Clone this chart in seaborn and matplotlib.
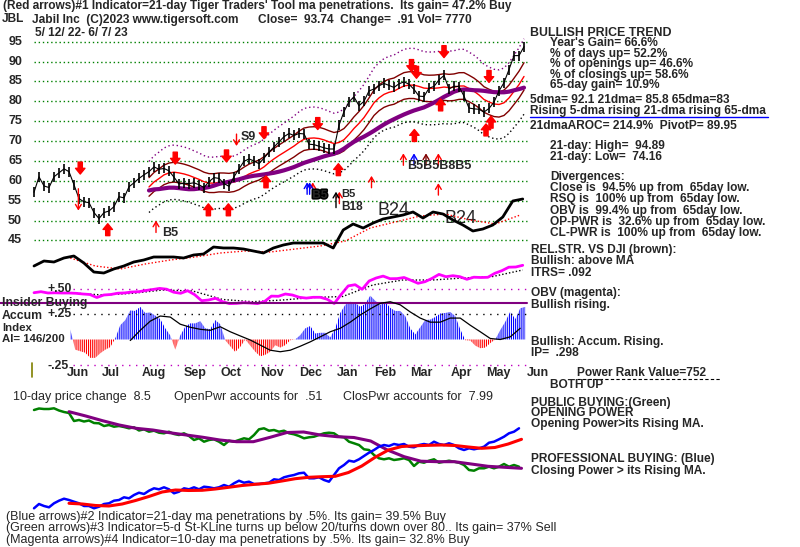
import numpy as np
import pandas as pd
import matplotlib
matplotlib.use("Agg")
import matplotlib.pyplot as plt
import matplotlib.patheffects as pe
import seaborn as sns

# ---------------- data ----------------
# daily-ish closes, 5/12/22 .. 6/7/23 (evenly spaced samples)
price = [57.1, 61, 58.7, 58.3, 61, 62, 63, 62.3, 59, 55.5,
         54.7, 54.5, 52, 50.5, 52, 52.4, 53.5, 56, 55.7, 58.5,
         59.5, 60.6, 61.5, 62.3, 63.5, 62.9, 63.1, 62.5, 60.9, 59.2,
         59.4, 59.3, 59.5, 59, 58.3, 59.8, 60.8, 60.6, 59.3, 58.6,
         61, 63, 64.9, 65.5, 65, 64.3, 65.7, 67.2, 68.5, 69.8,
         71.1, 71.9, 71.4, 71.9, 71.8, 69.2, 69.1, 68.7, 68.3, 68,
         68, 74, 77.4, 79.9, 81.1, 78.9, 80, 82.6, 83.1, 83.9,
         84.5, 84, 83.5, 84.4, 84.9, 84.3, 83, 81.3, 81.2, 83.3,
         83.75, 85.4, 86.5, 83.1, 83.8, 83.7, 81.3, 78.3, 78.1, 78,
         77.3, 78.2, 79.8, 82.6, 84.7, 88, 91.5, 91.5, 93.74]
price_span = (0, 392)          # calendar days after 5/12/22

price_ticks = [95, 90, 85, 80, 75, 70, 65, 60, 55, 50, 45]
months = ["Jun", "Jul", "Aug", "Sep", "Oct", "Nov", "Dec",
          "Jan", "Feb", "Mar", "Apr", "May", "Jun"]
month_days = [26, 54, 86, 120, 149, 181, 212, 242, 272, 301, 333, 362, 394]

# relative strength vs DJI and its MA
rs = [34, 39, 38, 42, 44, 37, 28, 27, 31, 34, 38, 40, 43, 43, 43, 42, 45, 46,
      53, 52, 52, 51, 49, 47, 52, 55, 57, 57, 57, 57, 52, 70, 76, 72, 77, 81,
      83, 85, 88, 82, 88, 86, 80, 75, 69, 71, 75, 83, 99, 101]
rs_span = (0, 391)
rs_ma = [42, 34, 31, 36, 40, 43, 47, 49, 48, 51, 54, 59, 72, 78, 84, 86, 80, 76, 85]
rs_ma_span = (29, 389)

# on-balance volume and its MA
obv = [27.3, 28.3, 27, 27.2, 27, 27, 26.7, 26, 25.5, 22.5, 25, 25.5, 26.8, 27.1,
       28, 28.3, 29.5, 30.5, 31.6, 30.8, 27.8, 26.7, 29.3, 25.4, 19.3, 20, 21.7,
       18.3, 16.4, 16.6, 17.3, 17, 16.4, 18.4, 23.9, 23.7, 26, 25, 22.7, 21.9,
       22.7, 22.7, 20.7, 16.5, 25.6, 34.1, 35.3, 30.7, 39, 42, 43.9, 41.3, 41.4,
       42.5, 39.7, 36.7, 38.3, 41.6, 45.6, 43.3, 44.3, 43.3, 40.7, 42.8, 42.5,
       42.7, 46.7, 49.3, 52.8, 53, 54.7]
obv_span = (0, 391)
obv_ma = [27, 25, 26.7, 30, 29, 20.5, 18.3, 20, 22.5, 23.5, 35, 40, 40, 42, 43.5, 50]
obv_ma_span = (31, 391)

# accumulation index and its MA
ai = [0.10, -0.10, -0.115, -0.13, -0.18, -0.18, -0.135, -0.10, -0.075, 0.01,
      0.14, 0.19, 0.285, 0.28, 0.32, 0.26, 0.265, 0.235, 0.2, 0.11,
      0.04, -0.1, 0.04, 0.125, 0.158, 0.158, 0.18, 0.11, 0.10, 0.19,
      0.15, -0.007, -0.066, -0.122, -0.072, 0, -0.06, -0.12, -0.165, -0.15,
      -0.12, -0.056, -0.079, -0.056, -0.007, 0, 0.043, 0.109, 0.132, 0.059,
      0.066, 0.066, 0.02, 0.11, 0.26, 0.34, 0.37, 0.36, 0.32, 0.35,
      0.43, 0.38, 0.34, 0.37, 0.31, 0.28, 0.28, 0.23, 0.109, 0.05,
      0.12, 0.191, 0.195, 0.22, 0.255, 0.26, 0.27, 0.23, 0.10, -0.007,
      -0.01, -0.06, -0.085, -0.08, -0.035, 0.0, 0.092, 0.174, 0.273, 0.20,
      0.306, 0.32]
ai_span = (29, 393)
ai_ma = [-0.01, 0.09, 0.18, 0.23, 0.22, 0.15, 0.12, 0.1, 0.09, 0.125,
         0.076, 0.035, -0.005, -0.055, -0.105, -0.12, -0.105, -0.066, -0.023, 0.026,
         0.076, 0.11, 0.17, 0.24, 0.3, 0.355, 0.37, 0.34, 0.27, 0.21,
         0.17, 0.17, 0.21, 0.21, 0.14, 0.076, 0.01, 0, 0.026, 0.11]
ai_ma_span = (77, 389)

# opening power (green) / its MA (purple); closing power (blue) / its MA (red)
op = [110, 111.5, 111, 111, 111.7, 109.5, 108, 107, 99, 100,
      98.5, 99.5, 97, 96.7, 94, 95, 93.3, 94, 93, 91.7,
      92.7, 89.5, 90.7, 88.3, 89.3, 87.3, 86.7, 88.3, 86, 85,
      86.7, 84, 80, 81.7, 78.3, 80, 80.7, 78.3, 75, 79.3,
      78.3, 80, 81.7, 80.7, 85, 90.7, 91.7, 89.3, 90, 88.3,
      89.3, 86.7, 85.7, 84, 81.7, 82.7, 83.3, 85, 86.7, 87.3,
      86.7, 83.3, 82.7, 78.3, 76.7, 75, 70.7, 70, 65, 61.7,
      60.7, 61.7, 60, 60.7, 61.7, 60, 54, 58.3, 57.3, 59.3,
      60.7, 57.3, 58.3, 59.3, 58.3, 57.3, 55, 50, 49.3, 51.7,
      51.7, 53.3, 51.7, 53.3, 56, 53.3, 55, 53.3]
op_ma = [108.3, 104, 99.3, 95, 91.7, 90, 87.3, 85, 82.7, 80,
         78.3, 78.3, 82.7, 87.5, 88, 85, 83.3, 82.5, 79, 70,
         63.3, 58.8, 58.3, 58.3, 56, 53.7, 52.7, 51.7]
cp = [11.7, 16, 14, 12.7, 16.7, 19.3, 21.3, 20, 18.3, 16.7,
      14, 14, 11.7, 13.3, 16, 16.7, 19.3, 20, 22.7, 21.7,
      25, 27.3, 26, 29.3, 31.7, 30.7, 32.7, 30.7, 26.7, 28.3,
      31.7, 30.7, 32.7, 30.7, 33.3, 32.7, 31.7, 32.7, 35, 33.3,
      36.7, 39.3, 37.3, 38.3, 36, 36, 36.7, 37.3, 40.7, 40,
      42.7, 44, 45, 46.7, 47.3, 41.7, 41.7, 42.7, 40, 38.3,
      45, 51.7, 55, 59.3, 58.3, 60.7, 64, 67.3, 70, 73.3,
      75, 74, 76, 75, 76, 73.3, 72.7, 75, 76, 75,
      78.3, 76, 75, 76.7, 75, 71.7, 70, 71.7, 70.7, 71.7,
      73.3, 77.3, 78.3, 80.7, 83.3, 86.7, 88.3, 91.7]
cp_ma = [16.7, 16, 14.5, 14, 16, 19.5, 23.5, 28, 30, 29.5,
         29.7, 31, 32.7, 34.5, 35.7, 36.8, 39, 41.3, 42.7, 43.3,
         43.7, 47.5, 54, 62.7, 70, 73.5, 74.2, 74.7, 75, 74.5,
         73, 71.7, 72.5, 76, 80.7]
pw_span = (0, 388)
pw_ma_span = (28, 390)

# signals: (day, arrow tip price)
sell_big = [(37, 61.7), (113, 64.2), (154, 64.75), (184, 70.6), (227, 72.9),
            (302, 87.5), (306, 85.8), (328, 91.0), (364, 84.75)]
buy_big = [(59, 49.2), (139.5, 54.2), (155.5, 54.2), (185.6, 61.25), (243.5, 64.3),
           (304.3, 72.9), (325.3, 80.6), (361.6, 74.3), (365.6, 76.25)]
buy_thin_red = [(97.6, 50), (244.3, 57.25), (270, 61.25), (295.5, 66.9), (323.5, 66.9),
                (323.5, 59.4), (223, 59.6)]
buy_thin_blue = [(218.5, 59.6), (220.5, 59.6), (304, 66.9)]
buy_thin_dkred = [(313.6, 66.9)]
buy_thin_black = [(241.6, 57.25)]
sell_thin_red = [(162, 68.75)]

# ---------------- figure ----------------
W, H = 800, 547
sns.set_theme(style="white")
plt.rcParams["font.family"] = ["Liberation Sans", "DejaVu Sans"]
plt.rcParams["hatch.linewidth"] = 0.8
NARROW = ["Liberation Sans Narrow", "Liberation Sans", "DejaVu Sans"]
FS = 8.6

fig = plt.figure(figsize=(W / 100, H / 100), dpi=100)
fig.patch.set_facecolor("white")

PX0, PXD = 34.0, 1.25                     # pixel of day 0, pixels per day
XLIM = (-PX0 / PXD, (W - PX0) / PXD)


def layer(v_top, v_bottom):
    ax = fig.add_axes([0, 0, 1, 1])
    ax.set_xlim(*XLIM)
    ax.set_ylim(v_bottom, v_top)
    ax.axis("off")
    ax.patch.set_alpha(0)
    return ax


def T(x, y, s, size=FS, weight="bold", family=None, **kw):
    kw.setdefault("va", "center")
    kw.setdefault("ha", "left")
    fig.text(x / W, 1 - y / H, s, fontsize=size, fontweight=weight,
             family=family if family else ["Liberation Sans", "DejaVu Sans"], **kw)


def days(span, n):
    return np.linspace(span[0], span[1], n)


# ---- price panel ----
axp = layer(95 + 41.7 / 3.974, 95 - (H - 41.7) / 3.974)
for v in price_ticks:
    axp.plot([0, 394], [v, v], color="#008000", lw=1, ls=(0, (1, 2)))
    axp.text(-9.5, v, str(v), ha="right", va="center", fontsize=9, fontweight="bold")

dp = days(price_span, len(price))
s = pd.Series(price)
ma21 = s.rolling(8).mean()
ma65 = s.rolling(24).mean()
ok = np.arange(len(price)) >= 23
bands = pd.DataFrame({"day": dp[ok], "ma21": ma21[ok], "ma65": ma65[ok],
                      "up1": ma21[ok] * 1.04, "dn1": ma21[ok] * 0.96,
                      "up2": ma21[ok] * 1.11, "dn2": ma21[ok] * 0.89})
sns.lineplot(data=bands, x="day", y="up2", ax=axp, color="#800080", lw=1, ls=(0, (1, 2)))
sns.lineplot(data=bands, x="day", y="dn2", ax=axp, color="black", lw=1, ls=(0, (1, 2)))
sns.lineplot(data=bands, x="day", y="up1", ax=axp, color="#800000", lw=1)
sns.lineplot(data=bands, x="day", y="dn1", ax=axp, color="#800000", lw=1)
sns.lineplot(data=bands, x="day", y="ma21", ax=axp, color="red", lw=1)
sns.lineplot(data=bands, x="day", y="ma65", ax=axp, color="#800080", lw=3)
sns.lineplot(x=dp, y=price, ax=axp, color="black", lw=0.8, marker="|",
             markersize=7, markeredgewidth=1.2, markeredgecolor="black")
axp.set_xlim(*XLIM)
axp.axis("off")


def arrow(ax, d, tip, up, big, color, L=3.0):
    tail = tip - L if up else tip + L
    if big:
        props = dict(arrowstyle="simple,head_length=0.55,head_width=0.9,tail_width=0.4",
                     color=color, shrinkA=0, shrinkB=0, mutation_scale=7.5)
    else:
        props = dict(arrowstyle="->,head_length=0.5,head_width=0.3", color=color,
                     lw=1, shrinkA=0, shrinkB=0, mutation_scale=7)
    ax.annotate("", xy=(d, tip), xytext=(d, tail), arrowprops=props)


for d, v in sell_big:
    arrow(axp, d, v, False, True, "red")
for d, v in buy_big:
    arrow(axp, d, v, True, True, "red")
for d, v in buy_thin_red:
    arrow(axp, d, v, True, False, "red")
for d, v in buy_thin_blue:
    arrow(axp, d, v, True, False, "blue")
for d, v in buy_thin_dkred:
    arrow(axp, d, v, True, False, "#800000")
for d, v in buy_thin_black:
    arrow(axp, d, v, True, False, "black", L=4)
for d, v in sell_thin_red:
    arrow(axp, d, v, False, False, "red")
arrow(axp, 35.5, 52.5, False, False, "red", L=5.5)

axp.text(165.5, 71.0, "S9", fontsize=9, fontweight="bold", va="center")
axp.text(102.5, 46.8, "B5", fontsize=9, fontweight="bold", va="center")
axp.text(298.5, 63.6, "B5B5B8B5", fontsize=9, fontweight="bold", va="center")
axp.text(222.6, 56.4, "B5", fontsize=8.5, fontweight="heavy", va="center",
         path_effects=[pe.withStroke(linewidth=2.2, foreground="black")])
axp.text(245.8, 56.6, "B5", fontsize=8, fontweight="bold", va="center")
axp.text(245.8, 53.4, "B18", fontsize=8.5, fontweight="bold", va="center")
axp.text(274.5, 52.6, "B24", fontsize=13, va="center")
axp.text(328, 50.5, "B24", fontsize=13, va="center")

# ---- relative strength ----
axr = layer(300, 300 - H)
sns.lineplot(x=days(rs_ma_span, len(rs_ma)), y=rs_ma, ax=axr, color="red", lw=1, ls=(0, (1, 1.5)))
sns.lineplot(x=days(rs_span, len(rs)), y=rs, ax=axr, color="black", lw=2)
axr.set_xlim(*XLIM); axr.set_ylim(300 - H, 300); axr.axis("off")

# ---- OBV ----
axo = layer(320, 320 - H)
sns.lineplot(x=days(obv_ma_span, len(obv_ma)), y=obv_ma, ax=axo, color="black", lw=1, ls=(0, (1, 1.5)))
sns.lineplot(x=days(obv_span, len(obv)), y=obv, ax=axo, color="#ff00ff", lw=2)
axo.set_xlim(*XLIM); axo.set_ylim(320 - H, 320); axo.axis("off")

# ---- accumulation index ----
a_top, a_bot = 339.5 / 102, (339.5 - H) / 102
axa = layer(a_top, a_bot)
axa.plot([-27, 394], [0.36, 0.36], color="#800080", lw=1.5)
axa.plot([31, 394], [0.5, 0.5], color="#c000c0", lw=1, ls=(0, (1, 4)))
axa.plot([31, 394], [0.25, 0.25], color="black", lw=1, ls=(0, (1, 4)))
axa.plot([31, 394], [-0.25, -0.25], color="#c000c0", lw=1, ls=(0, (1, 4)))
axa.plot([-1.5, -1.5], [-0.23, -0.37], color="#808000", lw=1.2)
da = days(ai_span, len(ai))
aiv = np.array(ai)
axa.fill_between(da, 0, aiv, where=aiv >= 0, interpolate=True, facecolor="none",
                 edgecolor="blue", hatch="||||||||", lw=0)
axa.fill_between(da, 0, aiv, where=aiv <= 0, interpolate=True, facecolor="none",
                 edgecolor="red", hatch="||||||||", lw=0)
sns.lineplot(x=days(ai_ma_span, len(ai_ma)), y=ai_ma, ax=axa, color="black", lw=0.9)
axa.set_xlim(*XLIM); axa.set_ylim(a_bot, a_top); axa.axis("off")

for lab, d in zip(months, month_days):
    axa.text(d, -0.33, lab, fontsize=9, fontweight="bold", va="center", ha="left")

# ---- opening / closing power ----
axw = layer(520, 520 - H)
sns.lineplot(x=days(pw_span, len(op)), y=op, ax=axw, color="#008000", lw=1.8)
sns.lineplot(x=days(pw_ma_span, len(op_ma)), y=op_ma, ax=axw, color="#800080", lw=2.2)
sns.lineplot(x=days(pw_span, len(cp)), y=cp, ax=axw, color="#0000ff", lw=1.8)
sns.lineplot(x=days(pw_ma_span, len(cp_ma)), y=cp_ma, ax=axw, color="red", lw=2.2)
axw.set_xlim(*XLIM); axw.set_ylim(520 - H, 520); axw.axis("off")

# ---------------- texts ----------------
T(3, 6.5, "(Red arrows)#1 Indicator=21-day Tiger Traders' Tool ma penetrations.  Its gain= 47.2% Buy")
T(2, 19.5, "JBL")
T(32, 19.5, "Jabil Inc  (C)2023 www.tigersoft.com")
T(258, 19.5, "Close=  93.74  Change=  .91 Vol= 7770")
T(35, 32.5, "5/ 12/ 22- 6/ 7/ 23")

T(530, 32.5, "BULLISH PRICE TREND", size=8.9)
rx = 550
for y, s_ in [(43, "Year's Gain= 66.6%"), (53.5, "% of days up= 52.2%"),
              (64, "% of openings up= 46.6%"), (74.7, "% of closings up= 58.6%"),
              (85.3, "65-day gain= 10.9%")]:
    T(rx, y, s_)
T(530, 100, "5dma= 92.1 21dma= 85.8 65dma=83")
T(530, 111, "Rising 5-dma rising 21-dma rising 65-dma")
fig.add_artist(plt.Line2D([530 / W, 768 / W], [1 - 117 / H, 1 - 117 / H], color="blue", lw=1))
T(530, 126, "21dmaAROC= 214.9%  PivotP= 89.95")
T(rx, 146, "21-day: High=  94.89")
T(rx, 156.7, "21-day: Low=  74.16")
T(rx, 176.7, "Divergences:")
T(rx, 188, "Close is  94.5% up from  65day low.")
T(rx, 199.3, "RSQ is  100% up from  65day low.")
T(rx, 211, "OBV is  99.4% up from  65day low.")
T(rx, 222.3, "OP-PWR is  32.6% up from  65day low.")
T(rx, 233.3, "CL-PWR is  100% up from  65day low.")
T(531, 250, "REL.STR. VS DJI (brown):")
T(531, 261, "Bullish: above MA")
T(531, 272.7, "ITRS= .092")
T(531, 292.7, "OBV (magenta):")
T(531, 305, "Bullish rising.")
T(531, 341.7, "Bullish: Accum. Rising.")
T(531, 353.3, "IP=  .298")
T(577, 372.7, "Power Rank Value=752")
fig.add_artist(plt.Line2D([577 / W, 720 / W], [1 - 379 / H, 1 - 379 / H], color="black",
                          lw=0.8, ls=(0, (3, 2))))
T(550, 384.5, "BOTH UP")
T(531, 402.7, "PUBLIC BUYING:(Green)")
T(531, 413.3, "OPENING POWER")
T(531, 424.3, "Opening Power>its Rising MA.")
T(531, 459.3, "PROFESSIONAL BUYING: (Blue)")
T(531, 470.7, "Closing Power > its Rising MA.")

T(47, 289.3, "+.50", size=8.8)
T(2, 303.0, "Insider Buying", size=8.8)
T(2, 315.8, "Accum", size=8.8)
T(47, 314, "+.25", size=8.8)
T(2, 327.6, "Index", size=8.2)
T(2, 339.0, "AI= 146/200", size=8.2)
T(47, 366, "-.25", size=8.8)

T(13, 397, "10-day price change  8.5", size=9, weight="normal", family=NARROW)
T(174, 397, "OpenPwr accounts for  .51", size=9, weight="normal", family=NARROW)
T(343, 397, "ClosPwr accounts for  7.99", size=9, weight="normal", family=NARROW)
T(6, 516.7, "(Blue arrows)#2 Indicator=21-day ma penetrations by .5%. Its gain= 39.5% Buy",
  size=9, weight="normal", family=NARROW)
T(6, 528.3, "(Green arrows)#3 Indicator=5-d St-KLine turns up below 20/turns down over 80.. Its gain= 37% Sell",
  size=9, weight="normal", family=NARROW)
T(6, 539.5, "(Magenta arrows)#4 Indicator=10-day ma penetrations by .5%. Its gain= 32.8% Buy",
  size=9, weight="normal", family=NARROW)

fig.savefig("out.png", dpi=100, facecolor="white")
